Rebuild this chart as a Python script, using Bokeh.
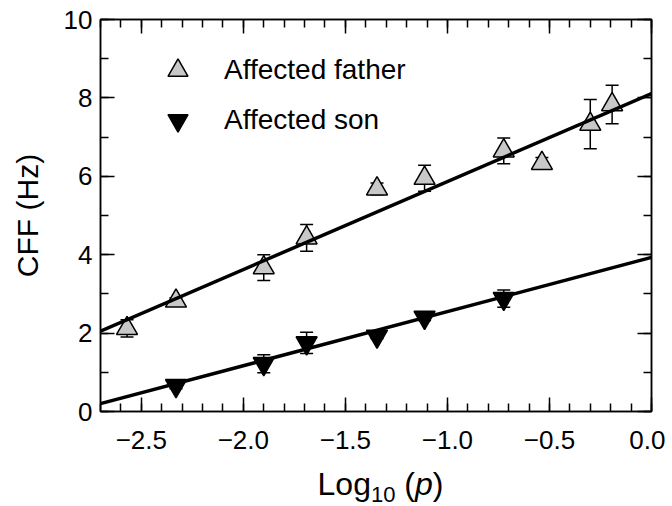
import numpy as np
from bokeh.plotting import figure
from bokeh.layouts import column
from bokeh.models import (Range1d, FixedTicker, LinearAxis, Whisker, ColumnDataSource,
                          Legend, LegendItem, TeeHead, Slope, Div)
from bokeh.embed import file_html
from bokeh.resources import INLINE

# ---- data ----
father_x = [-2.57, -2.33, -1.90, -1.69, -1.345, -1.112, -0.724, -0.537, -0.30, -0.193]
father_y = [2.12, 2.82, 3.67, 4.43, 5.68, 5.95, 6.65, 6.33, 7.33, 7.83]
father_err = [0.22, 0.08, 0.33, 0.34, 0.15, 0.33, 0.33, 0.15, 0.63, 0.49]

son_x = [-2.33, -1.90, -1.69, -1.345, -1.112, -0.724]
son_y = [0.66, 1.22, 1.75, 1.92, 2.40, 2.88]
son_err = [0.08, 0.23, 0.27, 0.06, 0.08, 0.22]

# regression fits (slope, intercept)
father_fit = (2.244, 8.11)
son_fit = (1.381, 3.93)

x_major = [-2.5, -2.0, -1.5, -1.0, -0.5, 0.0]
x_tick_labels = ["\u22122.5", "\u22122.0", "\u22121.5", "\u22121.0", "\u22120.5", "0.0"]
y_major = [0, 2, 4, 6, 8, 10]
y_tick_labels = ["0", "2", "4", "6", "8", "10"]

FONT = "Liberation Sans"

p = figure(width=665, height=470, output_backend="svg", toolbar_location=None,
           x_range=Range1d(-2.7, 0.0), y_range=Range1d(0, 10),
           min_border_left=100, min_border_right=14, min_border_top=19, min_border_bottom=59,
           x_axis_type=None, y_axis_type=None)
p.xgrid.visible = False
p.ygrid.visible = False
p.outline_line_color = "black"
p.outline_line_width = 1.5

x_minor = [round(v, 1) for v in np.arange(-2.7, 0.001, 0.1)]
y_minor = list(range(0, 11))
xt = FixedTicker(ticks=x_major, minor_ticks=x_minor)
yt = FixedTicker(ticks=y_major, minor_ticks=y_minor)


def style(ax, show):
    ax.axis_line_width = 1.5
    ax.axis_line_color = "black"
    ax.major_tick_in = 14
    ax.major_tick_out = 0
    ax.minor_tick_in = 8
    ax.minor_tick_out = 0
    ax.major_tick_line_width = 1.5
    ax.minor_tick_line_width = 1.5
    ax.major_tick_line_color = "black"
    ax.minor_tick_line_color = "black"
    if show:
        ax.major_label_text_font = FONT
        ax.major_label_text_font_size = "26px"
        ax.major_label_text_color = "black"
    else:
        ax.major_label_text_font_size = "1px"
        ax.major_label_text_color = None
        ax.major_label_standoff = 0


xb = LinearAxis(ticker=xt, major_label_overrides=dict(zip(x_major, x_tick_labels)))
style(xb, True)
xb.major_label_standoff = 19
p.add_layout(xb, "below")

yl = LinearAxis(ticker=yt, major_label_overrides=dict(zip(y_major, y_tick_labels)),
                axis_label="CFF (Hz)")
style(yl, True)
yl.major_label_standoff = 8
yl.axis_label_text_font = FONT
yl.axis_label_text_font_size = "30px"
yl.axis_label_text_font_style = "normal"
yl.axis_label_text_color = "black"
yl.axis_label_standoff = 17
p.add_layout(yl, "left")

xa = LinearAxis(ticker=xt)
style(xa, False)
p.add_layout(xa, "above")
yr = LinearAxis(ticker=yt)
style(yr, False)
p.add_layout(yr, "right")

# error bars
fsrc = ColumnDataSource(dict(x=father_x, y=father_y,
                             upper=[a + b for a, b in zip(father_y, father_err)],
                             lower=[a - b for a, b in zip(father_y, father_err)]))
ssrc = ColumnDataSource(dict(x=son_x, y=son_y,
                             upper=[a + b for a, b in zip(son_y, son_err)],
                             lower=[a - b for a, b in zip(son_y, son_err)]))
for src in (fsrc, ssrc):
    w = Whisker(base="x", upper="upper", lower="lower", source=src, line_width=1.5,
                line_color="black",
                upper_head=TeeHead(size=13, line_width=1.5, line_color="black"),
                lower_head=TeeHead(size=13, line_width=1.5, line_color="black"),
                level="underlay")
    p.add_layout(w)

rf = p.scatter("x", "y", source=fsrc, marker="triangle", size=21,
               fill_color="#c8c8c8", line_color="black", line_width=1.5)
rs = p.scatter("x", "y", source=ssrc, marker="inverted_triangle", size=21,
               fill_color="black", line_color="black", line_width=1.5)

for slope, icpt in (father_fit, son_fit):
    p.add_layout(Slope(gradient=slope, y_intercept=icpt, line_color="black", line_width=3.5))

legend = Legend(items=[LegendItem(label="Affected father", renderers=[rf]),
                       LegendItem(label="Affected son", renderers=[rs])],
                location=(40, 256), glyph_width=55, glyph_height=50, spacing=-14,
                label_standoff=19, padding=10, margin=0,
                border_line_alpha=0, background_fill_alpha=0,
                label_text_font=FONT, label_text_font_size="28px", label_text_color="black")
p.add_layout(legend)

# x-axis title: Log10 (p) with subscript and italic p
xtitle = Div(
    text=('<div style="position:relative; left:88px; top:-6px; width:575px; text-align:center; '
          'font-family:\'Liberation Sans\'; font-size:32px; line-height:31px; color:black; '
          'white-space:nowrap;">Log<sub style="font-size:22px; line-height:0; '
          'vertical-align:-7px;">10</sub>&nbsp;(<i>p</i>)</div>'),
    width=665, height=34)

layout = column(p, xtitle, spacing=0)
open("out.html", "w").write(file_html(layout, INLINE))
